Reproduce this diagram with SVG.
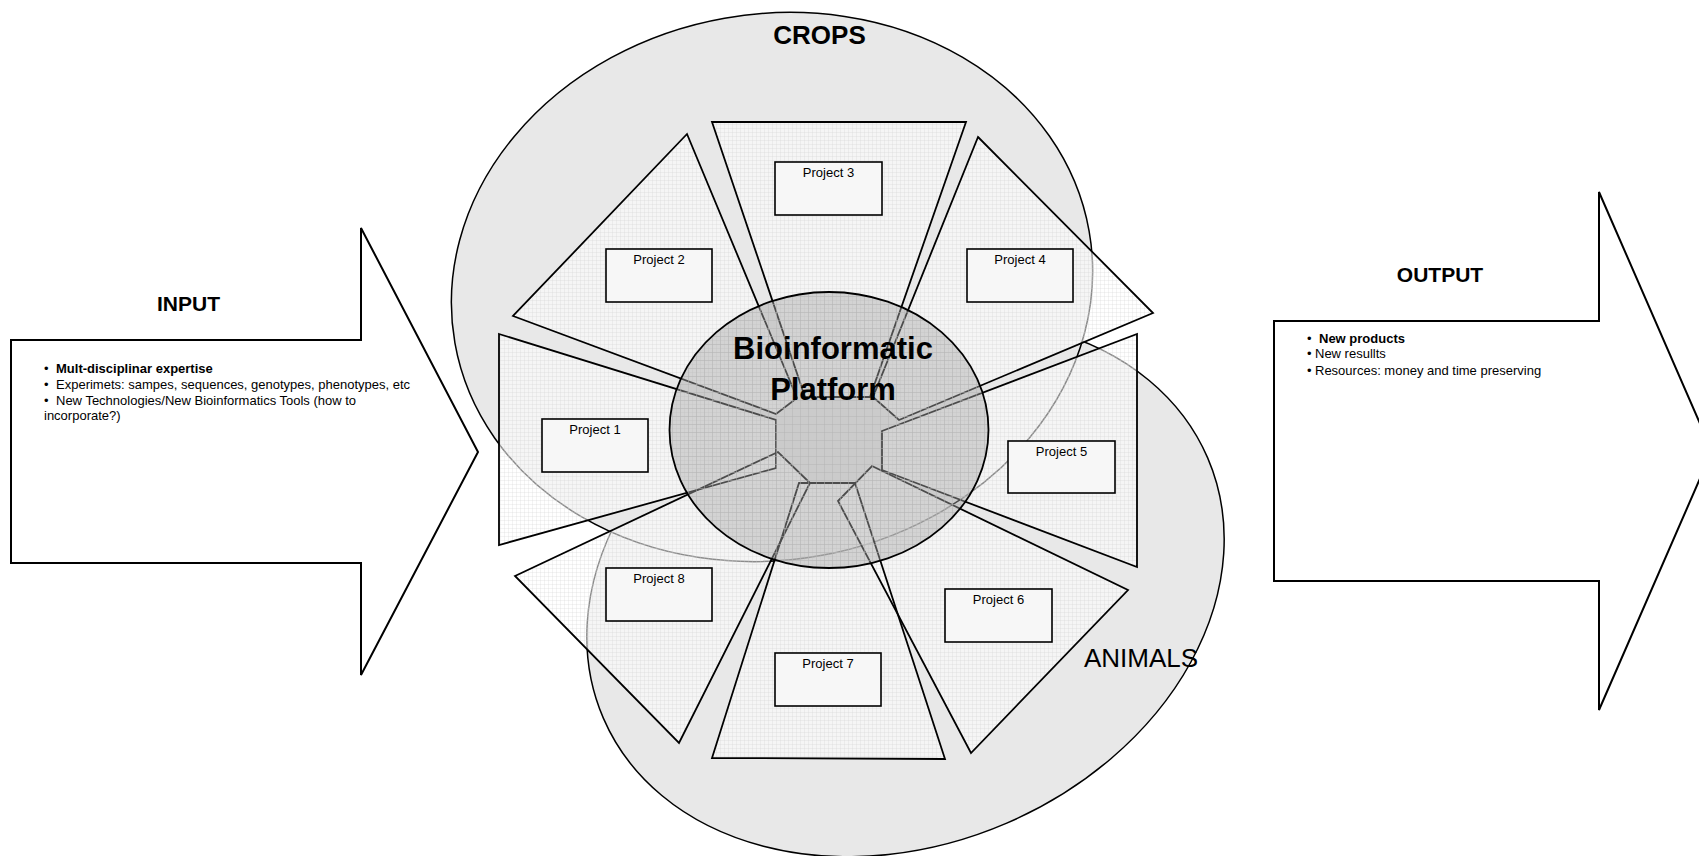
<svg xmlns="http://www.w3.org/2000/svg" width="1699" height="856" viewBox="0 0 1699 856">
<defs>
<pattern id="wgrid" width="4" height="4" patternUnits="userSpaceOnUse">
<rect width="4" height="4" fill="#ffffff" fill-opacity="0.55"/>
<path d="M0 0.5H4M0.5 0V4" stroke="#cfcfcf" stroke-width="0.5" stroke-opacity="0.5"/>
</pattern>
<pattern id="pgrid" width="8" height="8" patternUnits="userSpaceOnUse">
<rect width="8" height="8" fill="#a8a8a8" fill-opacity="0.45"/>
<path d="M0 0.5H8M0.5 0V8" stroke="#b4b4b4" stroke-width="0.8" stroke-opacity="0.6"/>
</pattern>
<style>
.ell{fill:#e8e8e8;stroke:#000;stroke-width:1.5}
.wf{fill:url(#wgrid);stroke:none}
.wo{fill:none;stroke:#000;stroke-width:1.8;stroke-linejoin:miter}
.box{fill:#f7f7f7;stroke:#000;stroke-width:1.6}
.pl{font-family:"Liberation Sans",Arial,sans-serif;font-size:13px;fill:#000;text-anchor:middle}
.arrow{fill:#fff;stroke:#000;stroke-width:2}
.t{font-family:"Liberation Sans",Arial,sans-serif;fill:#000}
.b13{font-size:13px}
</style>
</defs>
<rect width="1699" height="856" fill="#fff"/>

<g id="animals">
<ellipse class="ell" cx="905.5" cy="588" rx="329" ry="256" transform="rotate(-23.3 905.5 588)"/>
</g>
<g id="crops">
<ellipse class="ell" cx="772" cy="287" rx="322" ry="273" transform="rotate(-10 772 287)"/>
<text class="t" x="819.5" y="43.5" font-size="26" font-weight="bold" text-anchor="middle">CROPS</text>
</g>

<g id="wedge-fills">
<polygon class="wf" points="499,334 776,420 776,468 499,545"/>
<polygon class="wf" points="687,134 797,398 776,414 513,316"/>
<polygon class="wf" points="712,122 966,122 870,397 805,397"/>
<polygon class="wf" points="978,137 1153,313 899,420 873,397"/>
<polygon class="wf" points="882,431 1137,334 1137,567 882,470"/>
<polygon class="wf" points="872,466 1128,590 971,753 838,501"/>
<polygon class="wf" points="799,483 855,483 945,759 712,758"/>
<polygon class="wf" points="515,576 778,452 810,483 679,743"/>
</g>

<g id="project1">
<polygon class="wo" points="499,334 776,420 776,468 499,545"/>
<rect class="box" x="542" y="419" width="106" height="53"/>
<text class="pl" x="595" y="433.5">Project 1</text>
</g>
<g id="project2">
<polygon class="wo" points="687,134 797,398 776,414 513,316"/>
<rect class="box" x="606" y="249" width="106" height="53"/>
<text class="pl" x="659" y="263.5">Project 2</text>
</g>
<g id="project3">
<polygon class="wo" points="712,122 966,122 870,397 805,397"/>
<rect class="box" x="775" y="162" width="107" height="53"/>
<text class="pl" x="828.5" y="176.5">Project 3</text>
</g>
<g id="project4">
<polygon class="wo" points="978,137 1153,313 899,420 873,397"/>
<rect class="box" x="967" y="249" width="106" height="53"/>
<text class="pl" x="1020" y="263.5">Project 4</text>
</g>
<g id="project5">
<polygon class="wo" points="882,431 1137,334 1137,567 882,470"/>
<rect class="box" x="1008" y="441" width="107" height="52"/>
<text class="pl" x="1061.5" y="455.5">Project 5</text>
</g>
<g id="project6">
<polygon class="wo" points="872,466 1128,590 971,753 838,501"/>
<rect class="box" x="945" y="589" width="107" height="53"/>
<text class="pl" x="998.5" y="603.5">Project 6</text>
</g>
<g id="project7">
<polygon class="wo" points="799,483 855,483 945,759 712,758"/>
<rect class="box" x="775" y="653" width="106" height="53"/>
<text class="pl" x="828" y="667.5">Project 7</text>
</g>
<g id="project8">
<polygon class="wo" points="515,576 778,452 810,483 679,743"/>
<rect class="box" x="606" y="568" width="106" height="53"/>
<text class="pl" x="659" y="582.5">Project 8</text>
</g>

<g id="animals-label">
<text class="t" x="1084" y="667" font-size="26">ANIMALS</text>
</g>

<g id="platform">
<ellipse cx="829" cy="430" rx="159.5" ry="138" fill="url(#pgrid)" stroke="#000" stroke-width="1.8"/>
<text class="t" x="833" y="359" font-size="31" font-weight="bold" text-anchor="middle">Bioinformatic</text>
<text class="t" x="833" y="400" font-size="31" font-weight="bold" text-anchor="middle">Platform</text>
</g>

<g id="input">
<path class="arrow" d="M11,340 H361 V228 L478,452 L361,675 V563 H11 Z"/>
<text class="t" x="188.5" y="310.5" font-size="21" font-weight="bold" text-anchor="middle">INPUT</text>
<text class="t b13" y="372.5"><tspan x="44">•</tspan><tspan x="56" font-weight="bold">Mult-disciplinar expertise</tspan></text>
<text class="t b13" y="388.5"><tspan x="44">•</tspan><tspan x="56">Experimets: sampes, sequences, genotypes, phenotypes, etc</tspan></text>
<text class="t b13" y="404.5"><tspan x="44">•</tspan><tspan x="56">New Technologies/New Bioinformatics Tools (how to</tspan></text>
<text class="t b13" x="44" y="420">incorporate?)</text>
</g>

<g id="output">
<path class="arrow" d="M1274,321 H1599 V192 L1712,451 L1599,710 V581 H1274 Z"/>
<text class="t" x="1440" y="281.6" font-size="21" font-weight="bold" text-anchor="middle">OUTPUT</text>
<text class="t b13" y="342.5"><tspan x="1307">•</tspan><tspan x="1319" font-weight="bold">New products</tspan></text>
<text class="t b13" y="358.4"><tspan x="1307">•</tspan><tspan x="1315">New resullts</tspan></text>
<text class="t b13" y="374.6"><tspan x="1307">•</tspan><tspan x="1315">Resources: money and time preserving</tspan></text>
</g>

<g id="connectors"/>
</svg>
